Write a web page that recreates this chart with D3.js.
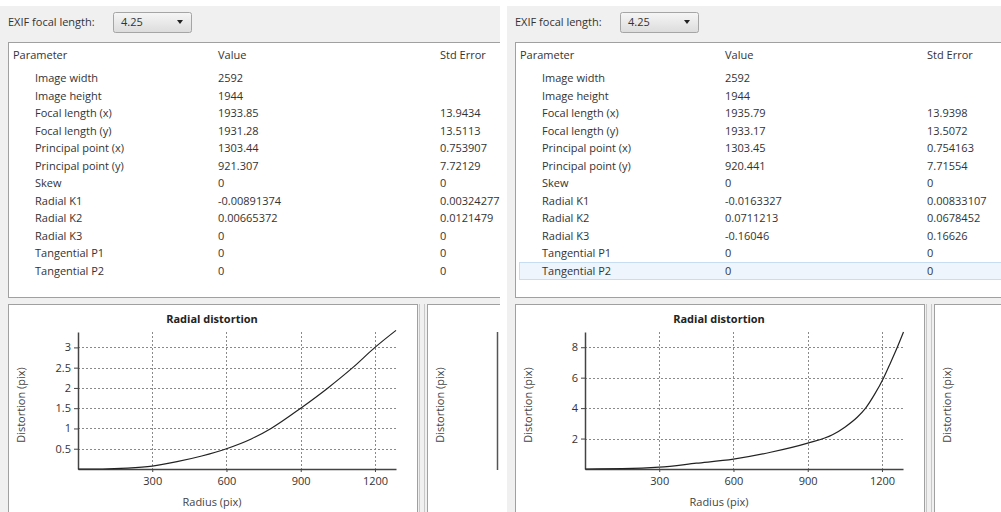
<!DOCTYPE html>
<html>
<head>
<meta charset="utf-8">
<script src="https://cdn.jsdelivr.net/npm/d3@7"></script>
<style>
body { margin: 0; background: #fff; }
svg { display: block; font-family: "Open Sans", "Noto Sans", sans-serif; }
</style>
</head>
<body>
<div id="chart"></div>
<script>
// calibration table
var paramNames = ["Image width", "Image height", "Focal length (x)", "Focal length (y)",
  "Principal point (x)", "Principal point (y)", "Skew", "Radial K1", "Radial K2",
  "Radial K3", "Tangential P1", "Tangential P2"];
var leftValues = ["2592", "1944", "1933.85", "1931.28", "1303.44", "921.307", "0",
  "-0.00891374", "0.00665372", "0", "0", "0"];
var leftErrors = ["", "", "13.9434", "13.5113", "0.753907", "7.72129", "0",
  "0.00324277", "0.0121479", "0", "0", "0"];
var rightValues = ["2592", "1944", "1935.79", "1933.17", "1303.45", "920.441", "0",
  "-0.0163327", "0.0711213", "-0.16046", "0", "0"];
var rightErrors = ["", "", "13.9398", "13.5072", "0.754163", "7.71554", "0",
  "0.00833107", "0.0678452", "0.16626", "0", "0"];

// radial distortion curves
var leftRadius = [0, 100, 200, 300, 400, 500, 600, 700, 780, 900, 1010, 1110, 1200, 1285];
var leftDistortion = [0, 0, 0.02, 0.07, 0.18, 0.32, 0.5, 0.74, 1.0, 1.5, 2.0, 2.5, 3.0, 3.42];
var rightRadius = [0, 150, 300, 450, 600, 750, 900, 1000, 1050, 1100, 1134, 1170, 1207, 1235, 1262, 1287];
var rightDistortion = [0, 0.02, 0.12, 0.38, 0.65, 1.1, 1.7, 2.25, 2.75, 3.4, 4.0, 4.9, 6.0, 7.0, 8.0, 9.0];

var xTicks = [300, 600, 900, 1200];
var leftYTicks = [0.5, 1, 1.5, 2, 2.5, 3];
var rightYTicks = [2, 4, 6, 8];

var W = 1001, H = 512;
var svg = d3.select("#chart").append("svg").attr("width", W).attr("height", H);

var defs = svg.append("defs");
var grad = defs.append("linearGradient").attr("id", "combo").attr("x1", 0).attr("y1", 0).attr("x2", 0).attr("y2", 1);
grad.append("stop").attr("offset", "0%").attr("stop-color", "#f6f6f6");
grad.append("stop").attr("offset", "100%").attr("stop-color", "#dcdcdc");

function drawPanel(cfg) {
  defs.append("clipPath").attr("id", "clip" + cfg.id)
    .append("rect").attr("x", 0).attr("y", 0).attr("width", cfg.w).attr("height", H);

  var g = svg.append("g")
    .attr("transform", "translate(" + cfg.ox + ",0)")
    .attr("clip-path", "url(#clip" + cfg.id + ")");

  g.append("rect").attr("x", 0).attr("y", 6).attr("width", cfg.w + 20).attr("height", H)
    .attr("fill", "#f0f0f0");

  // focal length selector
  g.append("text").attr("x", 8).attr("y", 26).attr("font-size", 11).attr("fill", "#333")
    .text("EXIF focal length:");
  g.append("rect").attr("x", 113.5).attr("y", 12.5).attr("width", 78).attr("height", 20).attr("rx", 2)
    .attr("fill", "url(#combo)").attr("stroke", "#a5a5a5");
  g.append("text").attr("x", 121).attr("y", 26).attr("font-size", 11).attr("fill", "#333").text("4.25");
  g.append("path").attr("d", "M177,20 L183,20 L180,24 Z").attr("fill", "#222");

  // table
  g.append("rect").attr("x", 8.5).attr("y", 42.5).attr("width", cfg.w + 20).attr("height", 255)
    .attr("fill", "#fff").attr("stroke", "#a0a0a0");

  var rowY = d3.scaleLinear().domain([0, 11]).range([78, 271]);
  if (cfg.highlight != null) {
    g.append("rect").attr("x", 12.5).attr("y", rowY(cfg.highlight) - 8.5)
      .attr("width", cfg.w + 20).attr("height", 17)
      .attr("fill", "#eef5fd").attr("stroke", "#c7ddf4");
  }
  var header = g.append("g").attr("font-size", 11).attr("fill", "#333");
  header.append("text").attr("x", 13).attr("y", 59).text("Parameter");
  header.append("text").attr("x", cfg.valX).attr("y", 59).text("Value");
  header.append("text").attr("x", cfg.errX).attr("y", 59).text("Std Error");

  var rows = g.append("g").attr("font-size", 11).attr("fill", "#333")
    .selectAll("g").data(paramNames).enter().append("g")
    .attr("transform", function(d, i) { return "translate(0," + (rowY(i) + 4) + ")"; });
  rows.append("text").attr("x", 35).text(function(d) { return d; });
  rows.append("text").attr("x", cfg.valX).text(function(d, i) { return cfg.values[i]; });
  rows.append("text").attr("x", cfg.errX).text(function(d, i) { return cfg.errors[i]; });

  // plot panels
  g.append("rect").attr("x", 8.5).attr("y", 304.5).attr("width", 409).attr("height", H)
    .attr("fill", "#fff").attr("stroke", "#a0a0a0");
  g.append("rect").attr("x", 418).attr("y", 304).attr("width", 9).attr("height", H)
    .attr("fill", "#f0f0f0");
  g.append("line").attr("x1", 419.5).attr("x2", 419.5).attr("y1", 304).attr("y2", H).attr("stroke", "#c8c8c8");
  g.append("line").attr("x1", 424.5).attr("x2", 424.5).attr("y1", 304).attr("y2", H).attr("stroke", "#c8c8c8");
  g.append("rect").attr("x", 427.5).attr("y", 304.5).attr("width", 300).attr("height", H)
    .attr("fill", "#fff").attr("stroke", "#a0a0a0");

  var x = d3.scaleLinear().domain([0, 1285]).range([78, 396]);
  var y = d3.scaleLinear().domain([0, cfg.yMax]).range([469, 332]);
  var fmt = d3.format("~g");

  g.append("text").attr("x", 212).attr("y", 323).attr("text-anchor", "middle")
    .attr("font-size", 11).attr("font-weight", "bold").attr("fill", "#222")
    .text("Radial distortion");

  var grid = g.append("g").attr("stroke", "#8a8a8a").attr("stroke-dasharray", "2,2").attr("stroke-width", 1);
  grid.selectAll(".gx").data(xTicks).enter().append("line")
    .attr("x1", function(d) { return Math.round(x(d)) + 0.5; })
    .attr("x2", function(d) { return Math.round(x(d)) + 0.5; })
    .attr("y1", 332).attr("y2", 469);
  grid.selectAll(".gy").data(cfg.yTicks).enter().append("line")
    .attr("x1", 78).attr("x2", 396)
    .attr("y1", function(d) { return Math.round(y(d)) + 0.5; })
    .attr("y2", function(d) { return Math.round(y(d)) + 0.5; });

  var xAxis = g.append("g").attr("transform", "translate(0,469)")
    .call(d3.axisBottom(x).tickValues(xTicks).tickFormat(fmt).tickSize(3).tickSizeOuter(0));
  var yAxis = g.append("g").attr("transform", "translate(78,0)")
    .call(d3.axisLeft(y).tickValues(cfg.yTicks).tickFormat(fmt).tickSize(4).tickSizeOuter(0));
  [xAxis, yAxis].forEach(function(a) {
    a.select(".domain").attr("stroke", "#444").attr("stroke-width", 1.5);
    a.selectAll(".tick line").attr("stroke", "#444");
    a.selectAll("text").attr("font-family", "\"Open Sans\", sans-serif").attr("font-size", 11).attr("fill", "#333");
  });
  xAxis.selectAll("text").attr("dy", "0.9em");

  g.append("path")
    .datum(cfg.radius.map(function(r, i) { return [r, cfg.distortion[i]]; }))
    .attr("fill", "none").attr("stroke", "#222").attr("stroke-width", 1.2)
    .attr("d", d3.line().x(function(d) { return x(d[0]); }).y(function(d) { return y(d[1]); })
      .curve(d3.curveMonotoneX));

  g.append("text").attr("x", 212).attr("y", 506).attr("text-anchor", "middle")
    .attr("font-size", 11).attr("fill", "#444").text("Radius (pix)");
  g.append("text").attr("transform", "translate(25,405) rotate(-90)").attr("text-anchor", "middle")
    .attr("font-size", 11).attr("fill", "#444").text("Distortion (pix)");
  g.append("text").attr("transform", "translate(444,405) rotate(-90)").attr("text-anchor", "middle")
    .attr("font-size", 11).attr("fill", "#444").text("Distortion (pix)");
  g.append("line").attr("x1", 497.5).attr("x2", 497.5).attr("y1", 332).attr("y2", 470)
    .attr("stroke", "#555").attr("stroke-width", 1.5);
}

drawPanel({ id: "L", ox: 0, w: 500, valX: 218, errX: 440,
  values: leftValues, errors: leftErrors, yMax: 3.38, yTicks: leftYTicks,
  radius: leftRadius, distortion: leftDistortion, highlight: null });
drawPanel({ id: "R", ox: 507, w: 494, valX: 218, errX: 420,
  values: rightValues, errors: rightErrors, yMax: 9, yTicks: rightYTicks,
  radius: rightRadius, distortion: rightDistortion, highlight: 11 });
</script>
</body>
</html>
